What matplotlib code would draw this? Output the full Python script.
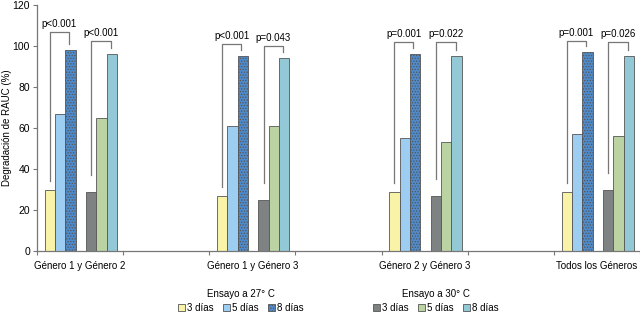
import matplotlib.pyplot as plt
import numpy as np

categories = ["Género 1 y Género 2", "", "Género 1 y Género 3", "",
              "Género 2 y Género 3", "", "Todos los Géneros"]
# values per group (only the filled slots)
slots = [0, 2, 4, 6]
t27_3 = [30, 27, 29, 29]
t27_5 = [67, 61, 55, 57]
t27_8 = [98, 95, 96, 97]
t30_3 = [29, 25, 27, 30]
t30_5 = [65, 61, 53, 56]
t30_8 = [96, 94, 95, 95]
p27 = ["p<0.001", "p<0.001", "p=0.001", "p=0.001"]
p30 = ["p<0.001", "p=0.043", "p=0.022", "p=0.026"]
top27 = [107, 101, 102, 102.5]
top30 = [102.5, 100, 102, 102]

plt.rcParams['font.family'] = ['Liberation Sans', 'DejaVu Sans']
plt.rcParams['hatch.color'] = 'white'
plt.rcParams['hatch.linewidth'] = 0.6

fig = plt.figure(figsize=(6.4, 3.15), dpi=100)
ax = fig.add_axes([37/640, 1 - 251/315, 603/640, 246/315])

x = np.array(slots, dtype=float) + 0.5
w = 0.12
offs = [-0.35, -0.23, -0.11, 0.13, 0.25, 0.37]
cols = ['#F8F3A6', '#9DCDF0', '#4F8BCB', '#7F8283', '#BBD3A2', '#93C9D6']
ec = '#555555'
series = [t27_3, t27_5, t27_8, t30_3, t30_5, t30_8]
labels = ["3 días", "5 días", "8 días", "3 días", "5 días", "8 días"]
bars = []
for i, (vals, c) in enumerate(zip(series, cols)):
    b = ax.bar(x + offs[i], vals, w, color=c, edgecolor=ec, linewidth=0.6,
               hatch='......' if i == 2 else None, label=labels[i])
    bars.append(b)

# significance brackets
def bracket(xl, yl, xr, yr, top, txt):
    ax.plot([xl, xl, xr, xr], [yl, top, top, yr], color='#777777', lw=0.9)
    ax.text((xl + xr) / 2, top + 1.5, txt, ha='center', va='bottom', fontsize=7)

for g in range(4):
    bracket(x[g] + offs[0], t27_3[g] + 4, x[g] + offs[2] - 0.02, t27_8[g] + 3, top27[g], p27[g])
    bracket(x[g] + offs[3], t30_3[g] + 8, x[g] + offs[5] - 0.01, t30_8[g] + 3, top30[g], p30[g])

ax.set_xlim(0, 7)
ax.set_ylim(0, 120)
ax.set_yticks(range(0, 121, 20))
ax.set_xticks(range(0, 8))
ax.set_xticklabels([])
for i, c in enumerate(categories):
    ax.text(i + 0.5, -5, c, ha='center', va='top', fontsize=7, transform=ax.transData)
ax.tick_params(axis='both', direction='out', length=3, width=0.8, color='#777777',
               labelsize=7.5, pad=2)
for s in ['top', 'right']:
    ax.spines[s].set_visible(False)
for s in ['left', 'bottom']:
    ax.spines[s].set_color('#777777')
    ax.spines[s].set_linewidth(0.9)
ax.set_ylabel("Degradación de RAUC (%)", fontsize=7)
ax.yaxis.set_label_coords(-0.042, 0.5)

kw = dict(ncol=3, frameon=False, fontsize=7, handlelength=0.7, handleheight=0.7,
          handletextpad=0.2, columnspacing=1.0, title_fontsize=7, borderpad=0,
          labelspacing=0.2)
leg1 = fig.legend(bars[:3], labels[:3], title="Ensayo a 27° C",
                  loc='center', bbox_to_anchor=(241/640, 1 - 301/315), **kw)
leg2 = fig.legend(bars[3:], labels[3:], title="Ensayo a 30° C",
                  loc='center', bbox_to_anchor=(436/640, 1 - 301/315), **kw)
leg1._legend_box.sep = 3
leg2._legend_box.sep = 3

fig.savefig("out.png", dpi=100)
